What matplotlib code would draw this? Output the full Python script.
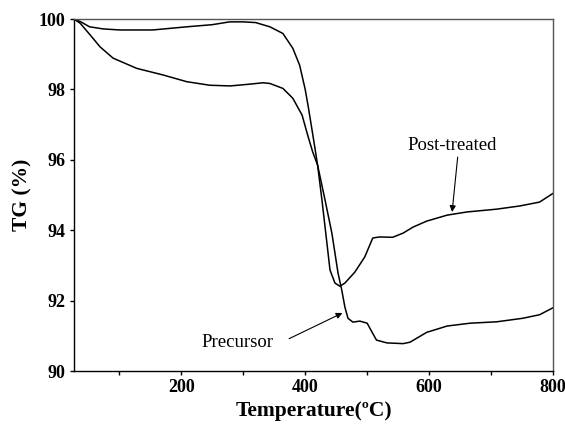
import matplotlib.pyplot as plt

# TG curves
post_temp = [27, 37, 52, 74, 101, 154, 209, 250, 278, 300, 320, 343, 364,
             380, 391, 400, 405, 411, 416, 420, 427, 435, 440, 448, 456, 464,
             480, 496, 509, 520, 541, 558, 574, 596, 629, 661, 709, 746, 778,
             800]
post_tg = [100, 99.93, 99.78, 99.72, 99.69, 99.69, 99.78, 99.84, 99.92, 99.92,
           99.9, 99.78, 99.59, 99.17, 98.69, 98.0, 97.5, 96.85, 96.3, 95.85,
           94.86, 93.64, 92.87, 92.5, 92.41, 92.5, 92.81, 93.24, 93.78, 93.81,
           93.8, 93.92, 94.09, 94.26, 94.43, 94.52, 94.6, 94.69, 94.8, 95.05]

pre_temp = [27, 37, 53, 69, 90, 128, 171, 209, 246, 279, 310, 332, 343, 364,
            380, 395, 404, 412, 420, 432, 443, 453, 459, 464, 469, 477, 488,
            500, 508, 515, 532, 558, 569, 596, 629, 666, 709, 751, 778, 800]
pre_tg = [100, 99.88, 99.55, 99.21, 98.89, 98.6, 98.41, 98.22, 98.12, 98.1,
          98.15, 98.19, 98.17, 98.03, 97.75, 97.27, 96.7, 96.23, 95.85, 94.86,
          93.92, 92.78, 92.3, 91.82, 91.5, 91.39, 91.42, 91.36, 91.1, 90.88,
          90.8, 90.78, 90.82, 91.1, 91.28, 91.36, 91.4, 91.5, 91.6, 91.8]

x_ticks = [200, 400, 600, 800]
x_minor = [100, 300, 500, 700]
y_ticks = [90, 92, 94, 96, 98, 100]

plt.rcParams["font.family"] = ["Liberation Serif", "DejaVu Serif"]

fig = plt.figure(figsize=(5.65, 4.33), dpi=100)
ax = fig.add_axes([0.131, 0.143, 0.848, 0.813])

line_style = dict(color="black", linewidth=1.1, solid_joinstyle="round")
ax.plot(post_temp, post_tg, **line_style)
ax.plot(pre_temp, pre_tg, **line_style)

arrow_style = dict(arrowstyle="-|>", color="black", lw=0.8,
                   shrinkA=0, shrinkB=0, mutation_scale=9)

# labels and their arrows
ax.text(637, 96.42, "Post-treated", ha="center", va="center", fontsize=13.5)
ax.annotate("", xy=(637, 94.52), xytext=(646, 96.08), arrowprops=arrow_style)
ax.text(290, 90.8, "Precursor", ha="center", va="center", fontsize=13.5)
ax.annotate("", xy=(460, 91.65), xytext=(374, 90.92), arrowprops=arrow_style)

ax.set_xlim(27, 800)
ax.set_ylim(90, 100)
ax.set_xticks(x_ticks)
ax.set_xticks(x_minor, minor=True)
ax.set_yticks(y_ticks)

for label in ax.get_xticklabels() + ax.get_yticklabels():
    label.set_fontweight("bold")
ax.tick_params(axis="both", which="major", labelsize=13, direction="out",
               length=3, width=1, pad=3)
ax.tick_params(axis="x", which="minor", direction="out", length=3, width=1)

ax.set_xlabel("Temperature(ºC)", fontsize=15.5, fontweight="bold", labelpad=3)
ax.set_ylabel("TG (%)", fontsize=15.5, fontweight="bold", labelpad=5)

for side in ["top", "right"]:
    ax.spines[side].set_color("#555555")
    ax.spines[side].set_linewidth(1.0)
for side in ["left", "bottom"]:
    ax.spines[side].set_linewidth(1.0)

fig.savefig("out.png", dpi=100)
plt.close(fig)
